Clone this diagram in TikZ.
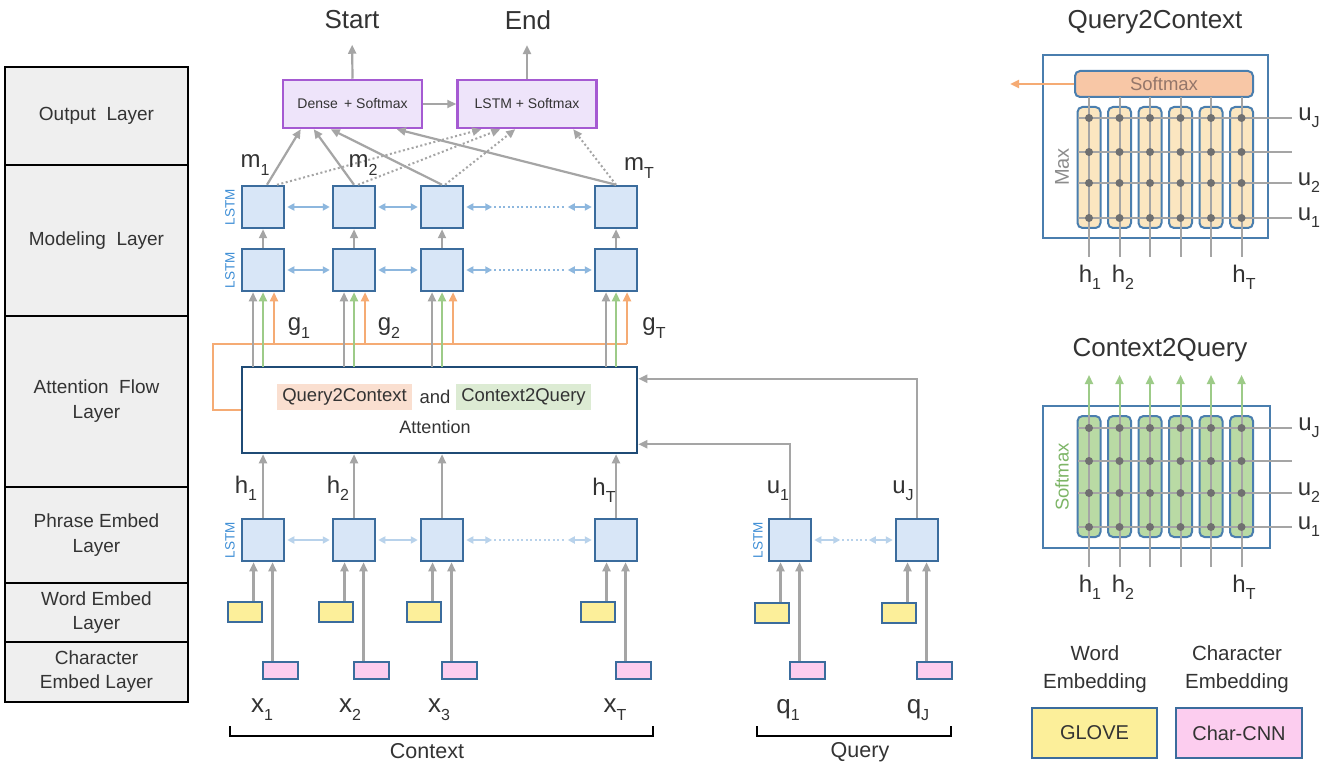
\documentclass[tikz,border=0pt]{standalone}
\usepackage{fontspec}
\setmainfont{Liberation Sans}
\usetikzlibrary{arrows.meta,calc}
\definecolor{txt}{HTML}{333333}
\definecolor{lstmfill}{HTML}{D8E6F7}
\definecolor{lstmdraw}{HTML}{3B6C9D}
\definecolor{agray}{HTML}{A5A5A5}
\definecolor{agreen}{HTML}{9DCB88}
\definecolor{aorange}{HTML}{F5AB74}
\definecolor{bluearr}{HTML}{8DB7DE}
\definecolor{bluearrl}{HTML}{B8D2EB}
\definecolor{yfill}{HTML}{FCEF9A}
\definecolor{pfill}{HTML}{FCCDEF}
\definecolor{purpdraw}{HTML}{A55AD2}
\definecolor{purpfill}{HTML}{EEE4FA}
\definecolor{tabfill}{HTML}{EFEFEF}
\definecolor{attdraw}{HTML}{1F4B75}
\definecolor{q2cbg}{HTML}{FADFD0}
\definecolor{c2qbg}{HTML}{DCEBD3}
\definecolor{panel}{HTML}{4A7EAE}
\definecolor{colY}{HTML}{FBE6C0}
\definecolor{colG}{HTML}{B9DAA4}
\definecolor{smfill}{HTML}{F8C7A6}
\definecolor{dotc}{HTML}{707070}
\definecolor{lstmlbl}{HTML}{3F8FD6}
\definecolor{maxc}{HTML}{8C8C8C}
\definecolor{smtxt}{HTML}{94766A}
\definecolor{sftxt}{HTML}{7DB566}
\newcommand\fsz[1]{\fontsize{#1}{#1}\selectfont}
\newcommand\lab[2]{#1\raisebox{-0.3em}{\fontsize{16}{16}\selectfont #2}}
\begin{document}
\begin{tikzpicture}[x=1pt,y=-1pt,
  every node/.style={text=txt},
  layer/.style={draw=black, line width=2pt, fill=tabfill, minimum width=183pt, inner sep=0pt, align=center, font=\fontsize{19}{25}\selectfont},
  lstm/.style={draw=lstmdraw, fill=lstmfill, line width=2.5pt, minimum size=42pt, inner sep=0pt},
  wbox/.style={draw=lstmdraw, fill=yfill, line width=2pt, minimum width=34pt, minimum height=20pt, inner sep=0pt},
  cbox/.style={draw=lstmdraw, fill=pfill, line width=2pt, minimum width=35pt, minimum height=17pt, inner sep=0pt},
  purp/.style={draw=purpdraw, fill=purpfill, line width=2.5pt, minimum width=139pt, minimum height=48pt, inner sep=0pt, font=\fsz{14}},
  arrtip/.style={-{Triangle[length=9pt,width=8pt]}},
  garrow/.style={draw=agray, line width=2.2pt, arrtip},
  gnarrow/.style={draw=agreen, line width=2.2pt, arrtip},
  oarrow/.style={draw=aorange, line width=2.2pt, arrtip},
  dgarrow/.style={draw=agray, line width=2pt, dash pattern=on 2pt off 2.5pt, arrtip},
  barr/.style={draw=#1, line width=2pt, {Triangle[length=7pt,width=7pt]}-{Triangle[length=7pt,width=7pt]}, shorten <=2pt, shorten >=2pt},
  bdot/.style={draw=#1, line width=2pt, dash pattern=on 2pt off 2.5pt},
  lbl/.style={inner sep=0pt, font=\fsz{24}},
  xlbl/.style={inner sep=0pt, font=\fsz{26}},
  lstmtxt/.style={rotate=90, text=lstmlbl, font=\fsz{13.5}, inner sep=0pt},
  qcol/.style={draw=panel, fill=colY, line width=2pt, rounded corners=5pt, minimum width=23pt, minimum height=121pt, inner sep=0pt},
  ccol/.style={draw=panel, fill=colG, line width=2pt, rounded corners=5pt, minimum width=23pt, minimum height=121pt, inner sep=0pt},
  gline/.style={draw=agray, line width=2pt},
]
\fill[white] (0,0) rectangle (1324,767);
\path[use as bounding box] (0,0) rectangle (1324,767);

% ---------------- layer table ----------------
\node[layer, minimum height=98pt]  (Lout)  at (96.5,116)   {Output\ \ Layer};
\node[layer, minimum height=151pt] (Lmod)  at (96.5,240.5) {Modeling\ \ Layer};
\node[layer, minimum height=171pt] (Latt)  at (96.5,401.5) {Attention\ \ Flow\\Layer};
\node[layer, minimum height=96pt]  (Lphr)  at (96.5,535)   {Phrase Embed\\Layer};
\node[layer, minimum height=59pt, font=\fontsize{19}{24}\selectfont] (Lword) at (96.5,612.5) {Word Embed\\Layer};
\node[layer, minimum height=60pt, font=\fontsize{19}{24}\selectfont] (Lchar) at (96.5,672) {Character\\Embed Layer};

% ---------------- attention box ----------------
\node[draw=attdraw, line width=2.5pt, fill=white, minimum width=395pt, minimum height=86pt, inner sep=0pt] (att) at (439.5,410) {};
\node[fill=q2cbg, font=\fsz{18.5}, inner xsep=5pt, inner ysep=5pt] (q2ct) at (344.5,397) {Query2Context};
\node[font=\fsz{18.5}] (andt) at (435,397) {and};
\node[fill=c2qbg, font=\fsz{18.5}, inner xsep=5pt, inner ysep=5pt] (c2qt) at (523.5,397) {Context2Query};
\node[font=\fsz{18}] (attt) at (435,427) {Attention};

% orange Query2Context feedback line
\coordinate (ocorner) at (213,344);
\coordinate (oend) at (627,344);
\draw[aorange, line width=2.2pt] (att.west) -| (ocorner) -- (oend);

% ---------------- context columns ----------------
\foreach \n/\x in {a/263,b/354,c/442,d/616} {
  \node[lstm] (M1\n) at (\x,207) {};
  \node[lstm] (M2\n) at (\x,270) {};
  \node[lstm] (P\n)  at (\x,540) {};
  \node[wbox] (Y\n)  at (\x-18,612) {};
  \node[cbox] (C\n)  at (\x+17.5,670.5) {};
  \draw[garrow] (M2\n.north) -- (M1\n.south);
  \draw[garrow] ($(Y\n.north)+(8.5,0)$) -- ($(P\n.south)+(-9.5,0)$);
  \draw[garrow] ($(C\n.north)+(-8,0)$) -- ($(P\n.south)+(9.5,0)$);
  \draw[garrow] (P\n.north) -- (P\n.north |- att.south);
  \draw[oarrow] (\x+11,344) -- ($(M2\n.south)+(11,0)$);
  \draw[garrow] (\x-10,367) -- ($(M2\n.south)+(-10,0)$);
  \draw[gnarrow] (\x,367) -- (M2\n.south);
}

% horizontal bidirectional arrows
\foreach \rw/\cl in {M1/bluearr, M2/bluearr, P/bluearrl} {
  \draw[barr=\cl] (\rw a.east) -- (\rw b.west);
  \draw[barr=\cl] (\rw b.east) -- (\rw c.west);
  \draw[barr=\cl] (\rw c.east) -- ($(\rw c.east)+(30,0)$);
  \draw[bdot=\cl] ($(\rw c.east)+(30,0)$) -- ($(\rw d.west)+(-28,0)$);
  \draw[barr=\cl] ($(\rw d.west)+(-28,0)$) -- (\rw d.west);
}

% LSTM labels
\node[lstmtxt] (lt1) at (230,207) {LSTM};
\node[lstmtxt] (lt2) at (230,270) {LSTM};
\node[lstmtxt] (lt3) at (230,540) {LSTM};
\node[lstmtxt] (lt4) at (758,540) {LSTM};

% ---------------- query columns ----------------
\foreach \n/\x in {1/790,J/917} {
  \node[lstm] (U\n) at (\x,540) {};
  \node[wbox] (QY\n) at (\x-18,613) {};
  \node[cbox] (QC\n) at (\x+17.5,670.5) {};
  \draw[garrow] ($(QY\n.north)+(8.5,0)$) -- ($(U\n.south)+(-9.5,0)$);
  \draw[garrow] ($(QC\n.north)+(-8,0)$) -- ($(U\n.south)+(9.5,0)$);
}
\draw[barr=bluearrl] (U1.east) -- ($(U1.east)+(30,0)$);
\draw[bdot=bluearrl] ($(U1.east)+(30,0)$) -- ($(UJ.west)+(-28,0)$);
\draw[barr=bluearrl] ($(UJ.west)+(-28,0)$) -- (UJ.west);
\draw[garrow] (UJ.north) |- ($(att.north east)+(0,13)$);
\draw[garrow] (U1.north) |- ($(att.south east)+(0,-10)$);

% ---------------- output layer ----------------
\node[purp] (dense) at (352.5,104) {Dense\, + Softmax};
\node[purp] (lsm) at (527,104) {LSTM + Softmax};
\node[font=\fsz{26}] (start) at (352,20) {Start};
\node[font=\fsz{26}] (endn) at (528,20) {End};
\draw[garrow, shorten >=12pt] (dense.north) -- (start.south);
\draw[garrow, shorten >=12pt] (lsm.north) -- (lsm.north |- endn.south);
\draw[garrow] (dense.east) -- (lsm.west);

\draw[dgarrow] ($(M1a.north)+(14,0)$) -- ($(lsm.south west)+(25,0)$);
\draw[dgarrow] ($(M1b.north)+(4,0)$) -- ($(lsm.south west)+(44,0)$);
\draw[dgarrow] ($(M1c.north)+(3,0)$) -- ($(lsm.south west)+(59,0)$);
\draw[dgarrow] ($(M1d.north)+(0,0)$) -- ($(lsm.south west)+(117,0)$);
\draw[garrow] ($(M1a.north)+(4,0)$) -- ($(dense.south west)+(19,0)$);
\draw[garrow] (M1b.north) -- ($(dense.south west)+(32,0)$);
\draw[garrow] (M1c.north) -- ($(dense.south west)+(49,0)$);
\draw[garrow] (M1d.north) -- ($(dense.south west)+(115,0)$);

% ---------------- labels ----------------
\node[lbl] (m1) at (255,165) {\lab{m}{1}};
\node[lbl] (m2) at (363,165) {\lab{m}{2}};
\node[lbl] (mT) at (639,168) {\lab{m}{T}};
\node[lbl] (g1) at (299,328) {\lab{g}{1}};
\node[lbl] (g2) at (389,328) {\lab{g}{2}};
\node[lbl] (gT) at (654,328) {\lab{g}{T}};
\node[lbl] (h1) at (246,488) {\lab{h}{1}};
\node[lbl] (h2) at (338,488) {\lab{h}{2}};
\node[lbl] (hT) at (604,490) {\lab{h}{T}};
\node[lbl] (u1) at (778,491) {\lab{u}{1}};
\node[lbl] (uJ) at (903,491) {\lab{u}{J}};
\node[xlbl] (x1) at (262,710) {\lab{x}{1}};
\node[xlbl] (x2) at (350,710) {\lab{x}{2}};
\node[xlbl] (x3) at (439,710) {\lab{x}{3}};
\node[xlbl] (xT) at (615,710) {\lab{x}{T}};
\node[xlbl] (q1) at (788,710) {\lab{q}{1}};
\node[xlbl] (qJ) at (918,710) {\lab{q}{J}};

% braces
\draw[black, line width=2pt] (230,726) -- (230,736) -- (653,736) -- (653,726);
\draw[black, line width=2pt] (757,726) -- (757,736) -- (951,736) -- (951,726);
\node[font=\fsz{21.5}] (ctxl) at (427,751) {Context};
\node[font=\fsz{21.5}] (qryl) at (860,752) {Query};

% ---------------- Query2Context panel ----------------
\node[font=\fsz{26}] (q2ctitle) at (1155,22) {Query2Context};
\node[draw=panel, line width=2pt, fill=white, minimum width=225pt, minimum height=183pt, inner sep=0pt] (q2cbox) at (1155.5,146.5) {};
\node[draw=panel, fill=smfill, rounded corners=5pt, line width=2pt, minimum width=178pt, minimum height=26pt, inner sep=0pt, font=\fsz{18.5}, text=smtxt] (sm) at (1164,84) {Softmax};
\coordinate (smout) at (1010,84);
\draw[oarrow] (sm.west) -- (smout);
\foreach \i in {0,...,5} {
  \node[qcol] (qc\i) at (1089+30.5*\i,167.5) {};
}
\foreach \i in {0,...,5} {
  \draw[gline] (1089+30.5*\i,97) -- (1089+30.5*\i,257);
}
\foreach \y in {118,152,183,218} {
  \draw[gline] (1078,\y) -- (1292,\y);
  \foreach \i in {0,...,5} { \fill[dotc] (1089+30.5*\i,\y) circle (4pt); }
}
\node[rotate=90, text=maxc, font=\fsz{20}] (maxl) at (1062,167) {Max};
\node[lbl] (quJ) at (1309,118) {\lab{u}{J}};
\node[lbl] (qu2) at (1309,183) {\lab{u}{2}};
\node[lbl] (qu1) at (1309,218) {\lab{u}{1}};
\node[lbl] (qh1) at (1090,277) {\lab{h}{1}};
\node[lbl] (qh2) at (1123,277) {\lab{h}{2}};
\node[lbl] (qhT) at (1244,277) {\lab{h}{T}};

% ---------------- Context2Query panel ----------------
\node[font=\fsz{26}] (c2qtitle) at (1160,350) {Context2Query};
\node[draw=panel, line width=2pt, fill=white, minimum width=227pt, minimum height=142pt, inner sep=0pt] (c2qbox) at (1156.5,477) {};
\foreach \i in {0,...,5} {
  \node[ccol] (cc\i) at (1089+30.5*\i,476.5) {};
}
\foreach \i in {0,...,5} {
  \draw[gline] (1089+30.5*\i,567) -- (cc\i.north);
  \draw[gnarrow, line width=2pt] (cc\i.north) -- (1089+30.5*\i,375);
}
\foreach \y in {428,461,493,527} {
  \draw[gline] (1078,\y) -- (1292,\y);
  \foreach \i in {0,...,5} { \fill[dotc] (1089+30.5*\i,\y) circle (4pt); }
}
\node[rotate=90, text=sftxt, font=\fsz{18.5}] (sml) at (1062,477) {Softmax};
\node[lbl] (cuJ) at (1309,428) {\lab{u}{J}};
\node[lbl] (cu2) at (1309,493) {\lab{u}{2}};
\node[lbl] (cu1) at (1309,527) {\lab{u}{1}};
\node[lbl] (ch1) at (1090,587) {\lab{h}{1}};
\node[lbl] (ch2) at (1123,587) {\lab{h}{2}};
\node[lbl] (chT) at (1244,587) {\lab{h}{T}};

% ---------------- legend ----------------
\node[align=center, font=\fontsize{20.5}{28}\selectfont] (wemb) at (1095,669) {Word\\Embedding};
\node[align=center, font=\fontsize{20.5}{28}\selectfont] (cemb) at (1237,669) {Character\\Embedding};
\node[draw=lstmdraw, fill=yfill, line width=2.5pt, minimum width=125pt, minimum height=50pt, font=\fsz{20}] (glove) at (1094.5,733) {GLOVE};
\node[draw=lstmdraw, fill=pfill, line width=2.5pt, minimum width=126pt, minimum height=50pt, font=\fsz{20}] (ccnn) at (1239,733) {Char-CNN};
\end{tikzpicture}
\end{document}
